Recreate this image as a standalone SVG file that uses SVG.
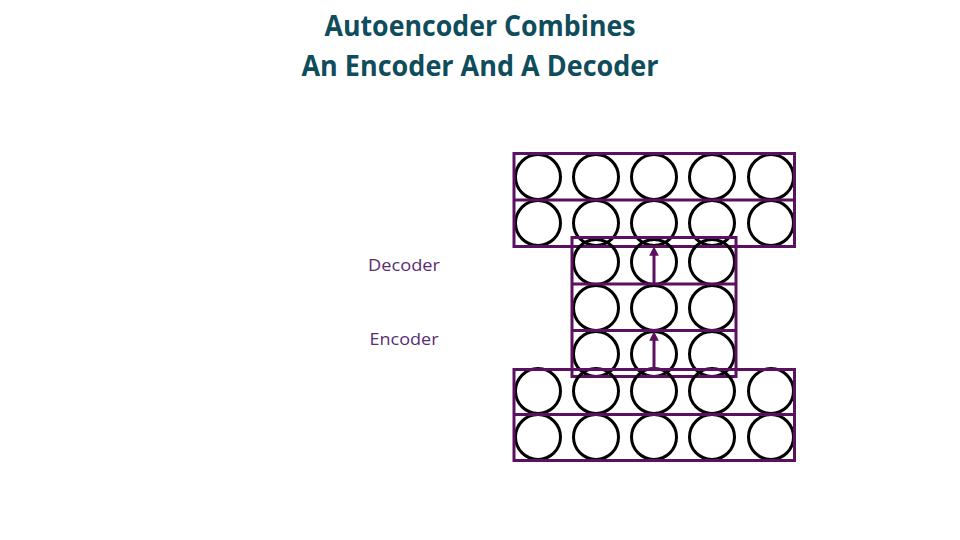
<svg xmlns="http://www.w3.org/2000/svg" width="960" height="540" viewBox="0 0 960 540">
<style>
.t{font-family:"Open Sans","Liberation Sans",sans-serif;font-weight:bold;font-size:28px;fill:#0f4c5c;text-anchor:middle}
.l{font-family:"Open Sans","Liberation Sans",sans-serif;font-size:17px;fill:#5a2d73;text-anchor:middle}
.c{fill:none;stroke:#000;stroke-width:3}
.r{fill:none;stroke:#5b1060;stroke-width:3}
.a{stroke:#5b1060;stroke-width:3;fill:none}
</style>
<defs>
<marker id="ah" viewBox="0 0 10 10" refX="5" refY="5" markerWidth="3.2" markerHeight="3.2" orient="auto">
<path d="M0,0 L10,5 L0,10 z" fill="#5b1060"/>
</marker>
</defs>
<rect width="960" height="540" fill="#fff"/>
<text class="t" x="480" y="36" textLength="311" lengthAdjust="spacingAndGlyphs">Autoencoder Combines</text>
<text class="t" x="480" y="76" textLength="357" lengthAdjust="spacingAndGlyphs">An Encoder And A Decoder</text>
<text class="l" x="404" y="271" textLength="72" lengthAdjust="spacingAndGlyphs">Decoder</text>
<text class="l" x="404" y="345" textLength="69" lengthAdjust="spacingAndGlyphs">Encoder</text>
<g id="output-layer">
<circle class="c" cx="538" cy="177" r="22.5"/><circle class="c" cx="596" cy="177" r="22.5"/><circle class="c" cx="654" cy="177" r="22.5"/><circle class="c" cx="712" cy="177" r="22.5"/><circle class="c" cx="771" cy="177" r="22.5"/>
<circle class="c" cx="538" cy="223" r="22.5"/><circle class="c" cx="596" cy="223" r="22.5"/><circle class="c" cx="654" cy="223" r="22.5"/><circle class="c" cx="712" cy="223" r="22.5"/><circle class="c" cx="771" cy="223" r="22.5"/>
<rect class="r" x="514" y="153.5" width="280.5" height="93"/>
<line class="r" x1="514" y1="200" x2="794.5" y2="200"/>
</g>
<g id="middle-layers">
<circle class="c" cx="596" cy="262" r="22.5"/><circle class="c" cx="654" cy="262" r="22.5"/><circle class="c" cx="712" cy="262" r="22.5"/>
<circle class="c" cx="596" cy="308" r="22.5"/><circle class="c" cx="654" cy="308" r="22.5"/><circle class="c" cx="712" cy="308" r="22.5"/>
<circle class="c" cx="596" cy="354" r="22.5"/><circle class="c" cx="654" cy="354" r="22.5"/><circle class="c" cx="712" cy="354" r="22.5"/>
<rect class="r" x="572" y="237.5" width="164" height="139"/>
<line class="r" x1="572" y1="284" x2="736" y2="284"/>
<line class="r" x1="572" y1="330.5" x2="736" y2="330.5"/>
</g>
<g id="input-layer">
<circle class="c" cx="538" cy="391" r="22.5"/><circle class="c" cx="596" cy="391" r="22.5"/><circle class="c" cx="654" cy="391" r="22.5"/><circle class="c" cx="712" cy="391" r="22.5"/><circle class="c" cx="771" cy="391" r="22.5"/>
<circle class="c" cx="538" cy="437" r="22.5"/><circle class="c" cx="596" cy="437" r="22.5"/><circle class="c" cx="654" cy="437" r="22.5"/><circle class="c" cx="712" cy="437" r="22.5"/><circle class="c" cx="771" cy="437" r="22.5"/>
<rect class="r" x="514" y="369.5" width="280.5" height="91"/>
<line class="r" x1="514" y1="414.5" x2="794.5" y2="414.5"/>
</g>
<g id="connectors">
<line class="a" x1="654" y1="284" x2="654" y2="251" marker-end="url(#ah)"/>
<line class="a" x1="654" y1="369" x2="654" y2="336" marker-end="url(#ah)"/>
</g>
</svg>
